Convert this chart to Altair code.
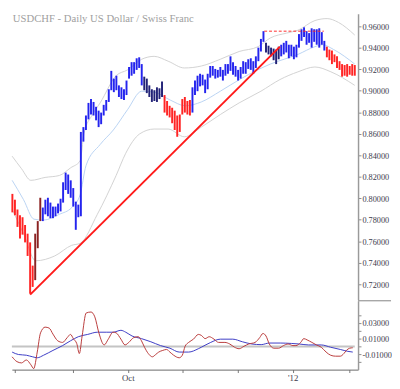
import altair as alt
import pandas as pd

TITLE = "USDCHF - Daily  US Dollar / Swiss Franc"

# bar index (trading days, 0 = 1 Aug 2011)
bar_index = list(range(-1, 135))
bar_high = [0.8041, 0.7987, 0.7896, 0.7842, 0.7824, 0.7752, 0.7671, 0.7590, 0.7374, 0.7671,
            0.7788, 0.8005, 0.7914, 0.7987, 0.8005, 0.7960, 0.7923, 0.7923, 0.7951, 0.7996,
            0.8149, 0.8239, 0.8221, 0.8167, 0.8095, 0.7969, 0.7941, 0.8617, 0.8662, 0.8770,
            0.8887, 0.8923, 0.8896, 0.8851, 0.8815, 0.8797, 0.8869, 0.8914, 0.9014, 0.9185,
            0.9113, 0.9140, 0.9050, 0.9032, 0.9014, 0.9095, 0.9221, 0.9266, 0.9266, 0.9302,
            0.9311, 0.9248, 0.9131, 0.9113, 0.9050, 0.9014, 0.9005, 0.9032, 0.9023, 0.9086,
            0.8960, 0.8905, 0.8860, 0.8842, 0.8815, 0.8770, 0.8779, 0.8923, 0.8942, 0.8905,
            0.8914, 0.9032, 0.9095, 0.9140, 0.9158, 0.9149, 0.9104, 0.9158, 0.9230, 0.9230,
            0.9203, 0.9194, 0.9221, 0.9194, 0.9248, 0.9248, 0.9320, 0.9266, 0.9230, 0.9194,
            0.9221, 0.9275, 0.9266, 0.9293, 0.9302, 0.9275, 0.9320, 0.9401, 0.9482, 0.9554,
            0.9446, 0.9419, 0.9401, 0.9392, 0.9383, 0.9410, 0.9428, 0.9446, 0.9464, 0.9428,
            0.9428, 0.9410, 0.9428, 0.9527, 0.9572, 0.9590, 0.9554, 0.9536, 0.9581, 0.9572,
            0.9572, 0.9581, 0.9545, 0.9464, 0.9410, 0.9383, 0.9374, 0.9338, 0.9320, 0.9275,
            0.9248, 0.9239, 0.9248, 0.9230, 0.9248, 0.9239]
bar_low = [0.7869, 0.7842, 0.7734, 0.7626, 0.7662, 0.7590, 0.7464, 0.7113, 0.7176, 0.7239,
           0.7536, 0.7788, 0.7788, 0.7851, 0.7833, 0.7815, 0.7815, 0.7833, 0.7860, 0.7878,
           0.7960, 0.8077, 0.8041, 0.8005, 0.7923, 0.7707, 0.7824, 0.7833, 0.8527, 0.8635,
           0.8734, 0.8779, 0.8770, 0.8725, 0.8662, 0.8689, 0.8770, 0.8815, 0.8896, 0.9005,
           0.8987, 0.9005, 0.8942, 0.8923, 0.8914, 0.8960, 0.9113, 0.9140, 0.9158, 0.9194,
           0.9212, 0.9050, 0.9005, 0.8978, 0.8942, 0.8896, 0.8905, 0.8896, 0.8923, 0.8942,
           0.8797, 0.8770, 0.8752, 0.8698, 0.8635, 0.8572, 0.8617, 0.8779, 0.8797, 0.8779,
           0.8770, 0.8797, 0.8960, 0.8996, 0.9041, 0.9050, 0.8978, 0.9014, 0.9122, 0.9140,
           0.9113, 0.9122, 0.9131, 0.9095, 0.9140, 0.9158, 0.9185, 0.9149, 0.9131, 0.9095,
           0.9113, 0.9158, 0.9158, 0.9203, 0.9194, 0.9158, 0.9212, 0.9275, 0.9365, 0.9455,
           0.9356, 0.9338, 0.9320, 0.9284, 0.9248, 0.9293, 0.9320, 0.9338, 0.9356, 0.9302,
           0.9320, 0.9293, 0.9311, 0.9401, 0.9464, 0.9500, 0.9428, 0.9446, 0.9401, 0.9455,
           0.9428, 0.9401, 0.9428, 0.9374, 0.9311, 0.9284, 0.9248, 0.9266, 0.9212, 0.9194,
           0.9131, 0.9140, 0.9131, 0.9149, 0.9140, 0.9140]
color_runs = [("r", 9), ("dr", 3), ("b", 40), ("n", 8), ("r", 11),
              ("b", 29), ("n", 6), ("b", 18), ("r", 12)]
bar_state = [c for c, n in color_runs for _ in range(n)]

upper_band = [(-1.1, 0.8392), (2.6, 0.8275), (6.3, 0.8167), (11.9, 0.8194), (17.5, 0.8212),
              (22.0, 0.8284), (25.7, 0.8347), (27.2, 0.8599), (30.6, 0.8779), (33.6, 0.8887),
              (39.9, 0.9140), (44.4, 0.9194), (50.0, 0.9293), (54.9, 0.9320), (60.4, 0.9275),
              (66.8, 0.9212), (73.5, 0.9230), (81.0, 0.9293), (88.4, 0.9365), (95.9, 0.9410),
              (100.7, 0.9491), (107.1, 0.9536), (111.6, 0.9563), (118.3, 0.9653),
              (123.1, 0.9671), (127.6, 0.9635), (134.0, 0.9518)]
middle_band = [(-1.1, 0.8167), (3.4, 0.7987), (7.5, 0.7806), (11.2, 0.7797), (17.5, 0.7851),
               (22.4, 0.7914), (25.7, 0.8032), (28.0, 0.8302), (33.6, 0.8500), (38.8, 0.8635),
               (44.4, 0.8824), (50.0, 0.8996), (54.9, 0.8987), (61.2, 0.8914), (67.2, 0.8860),
               (73.5, 0.8896), (81.0, 0.8996), (89.2, 0.9113), (100.7, 0.9248), (111.6, 0.9338),
               (118.3, 0.9410), (121.3, 0.9428), (125.7, 0.9383), (134.0, 0.9248)]
lower_band = [(-1.1, 0.7896), (3.4, 0.7671), (8.2, 0.7419), (15.7, 0.7464), (22.4, 0.7563),
              (25.7, 0.7581), (32.5, 0.7851), (39.9, 0.8212), (43.7, 0.8419), (49.2, 0.8599),
              (54.9, 0.8644), (60.4, 0.8644), (66.8, 0.8572), (73.5, 0.8662), (81.0, 0.8779),
              (88.4, 0.8887), (97.0, 0.8996), (104.5, 0.9104), (111.6, 0.9176), (118.3, 0.9221),
              (124.6, 0.9176), (134.0, 0.9050)]
trend_line = [(6.0, 0.7104), (104.5, 0.9410)]
resistance = [(98.3, 0.9554), (121.8, 0.9554)]

osc_red = [(-1.1, -0.0130), (0.8, -0.0191), (2.6, -0.0207), (4.5, -0.0170), (6.3, -0.0231),
           (7.4, -0.0279), (8.8, -0.0070), (10.1, 0.0173), (11.9, 0.0245), (13.5, 0.0233),
           (15.0, 0.0157), (16.9, 0.0072), (18.8, 0.0052), (20.6, 0.0112), (21.9, 0.0153),
           (23.1, 0.0096), (24.4, 0.0036), (25.4, -0.0089), (26.5, 0.0133), (28.1, 0.0424),
           (30.0, 0.0436), (31.5, 0.0375), (33.1, 0.0173), (35.2, 0.0020), (36.8, 0.0093),
           (38.7, 0.0181), (39.9, 0.0173), (41.8, 0.0093), (43.4, 0.0020), (44.9, 0.0052),
           (46.8, 0.0112), (48.6, 0.0124), (49.9, 0.0072), (51.1, -0.0009), (52.6, -0.0089),
           (54.2, -0.0130), (55.5, -0.0101), (56.7, -0.0070), (58.3, -0.0049), (59.8, -0.0037),
           (61.1, -0.0070), (62.6, -0.0110), (64.8, -0.0142), (66.0, -0.0110), (67.1, 0.0003),
           (68.5, 0.0052), (70.4, 0.0093), (72.3, 0.0153), (73.5, 0.0141), (75.0, 0.0100),
           (76.6, 0.0124), (78.5, 0.0093), (80.3, 0.0052), (82.8, 0.0052), (84.7, 0.0032),
           (86.6, -0.0009), (88.4, -0.0028), (90.3, 0.0003), (92.2, 0.0032), (94.7, 0.0052),
           (96.5, 0.0112), (97.8, 0.0165), (99.0, 0.0133), (100.3, 0.0032), (102.1, -0.0021),
           (104.0, -0.0021), (105.9, 0.0012), (107.7, 0.0032), (109.6, 0.0012), (110.8, 0.0012),
           (112.7, 0.0052), (113.9, 0.0100), (115.2, 0.0084), (117.1, 0.0052), (118.9, 0.0020),
           (120.8, -0.0009), (122.7, -0.0070), (124.5, -0.0110), (126.4, -0.0122),
           (128.3, -0.0122), (129.7, -0.0089), (130.7, -0.0049), (132.0, -0.0021),
           (133.2, -0.0016)]
osc_blue = [(-1.1, -0.0070), (1.4, -0.0101), (4.5, -0.0110), (7.0, -0.0130), (8.8, -0.0142),
            (11.3, -0.0110), (15.0, -0.0049), (18.8, 0.0012), (21.9, 0.0072), (25.0, 0.0124),
            (28.7, 0.0153), (32.5, 0.0181), (36.2, 0.0181), (38.7, 0.0181), (41.8, 0.0205),
            (43.7, 0.0181), (46.2, 0.0133), (49.9, 0.0100), (53.6, 0.0060), (57.4, 0.0012),
            (61.1, -0.0021), (64.8, -0.0070), (68.5, -0.0070), (72.3, -0.0028), (73.5, -0.0009),
            (77.2, 0.0052), (81.0, 0.0093), (85.9, 0.0093), (89.7, 0.0060), (93.4, 0.0032),
            (97.1, 0.0024), (100.3, 0.0044), (104.6, 0.0044), (109.0, 0.0039), (112.1, 0.0032),
            (115.8, 0.0020), (120.8, 0.0020), (124.5, -0.0009), (128.3, -0.0037),
            (131.3, -0.0061), (133.2, -0.0070)]

month_ticks = [0, 23, 44.5, 66, 88, 109.5, 132]
month_labels = ["", "", "Oct", "", "", "'12", ""]
price_ticks = [0.72, 0.74, 0.76, 0.78, 0.80, 0.82, 0.84, 0.86, 0.88, 0.90, 0.92, 0.94, 0.96]
osc_ticks = [-0.02, -0.01, 0.0, 0.01, 0.02, 0.03, 0.04]
osc_labels = ["", "-0.01000", "", "0.01000", "", "0.03000", ""]

W, H1, H2 = 357, 295, 71
FONT = "Liberation Serif"
LABEL_COLOR = "#3a3a4a"

xs = alt.Scale(domain=[-1.2, 135.3], nice=False, zero=False)
ys = alt.Scale(domain=[0.7056, 0.9716], nice=False, zero=False)
os_ = alt.Scale(domain=[-0.0292, 0.0578], nice=False, zero=False)

y_axis = alt.Axis(orient="right", values=price_ticks, format=".5f", title=None, grid=False,
                  labelFont=FONT, labelFontSize=8.5, labelColor=LABEL_COLOR, labelPadding=1,
                  tickColor="#8a8a8a", tickSize=3, domainColor="#9a9a9a", domainWidth=1.5)


def pairs_df(pairs):
    return pd.DataFrame(pairs, columns=["i", "p"])


def xenc():
    return alt.X("i:Q", scale=xs, axis=None)


def yenc(field="p"):
    return alt.Y(f"{field}:Q", scale=ys, axis=y_axis)


bars_df = pd.DataFrame({"i": bar_index, "high": bar_high, "low": bar_low, "s": bar_state})

band_layers = []
for pairs, col in [(upper_band, "#d2d2d2"), (lower_band, "#d2d2d2"), (middle_band, "#b9d3f3")]:
    band_layers.append(
        alt.Chart(pairs_df(pairs)).mark_line(interpolate="monotone", strokeWidth=1, color=col)
        .encode(x=xenc(), y=yenc())
    )

bars = alt.Chart(bars_df).mark_rule(strokeWidth=2).encode(
    x=xenc(),
    y=alt.Y("low:Q", scale=ys, axis=y_axis),
    y2="high:Q",
    color=alt.Color("s:N", scale=alt.Scale(domain=["b", "n", "r", "dr"],
                                           range=["#2424ee", "#222277", "#ff2424", "#8b2222"]),
                    legend=None),
)

res = alt.Chart(pairs_df(resistance)).mark_line(color="#ff2a2a", strokeWidth=1,
                                                 strokeDash=[3, 2]).encode(x=xenc(), y=yenc())
trend = alt.Chart(pairs_df(trend_line)).mark_line(color="#ff1a1a", strokeWidth=2).encode(
    x=xenc(), y=yenc())

title_layer = alt.Chart(pd.DataFrame({"t": [TITLE]})).mark_text(
    align="left", baseline="top", font=FONT, fontSize=11, color="#a0a0a0"
).encode(text="t:N", x=alt.value(1), y=alt.value(0))

main = alt.layer(*band_layers, bars, res, trend, title_layer).properties(width=W, height=H1)

# lower panel
x_expr = " : ".join(
    [f"datum.value == {v} ? \"{l}\"" for v, l in zip(month_ticks, month_labels) if l]
) + " : ''"
o_expr = " : ".join(
    [f"abs(datum.value - ({v})) < 1e-9 ? '{l}'" for v, l in zip(osc_ticks, osc_labels) if l]
) + " : ''"

x_axis = alt.Axis(values=month_ticks, labelExpr=x_expr, title=None, grid=False, tickSize=3,
                  tickColor="#777777", domainColor="#666666", labelFont=FONT, labelFontSize=9,
                  labelColor=LABEL_COLOR, labelPadding=1, labelOverlap=False, labelFlush=False)
o_axis = alt.Axis(orient="right", values=osc_ticks, labelExpr=o_expr, title=None, grid=False,
                  labelFont=FONT, labelFontSize=8.5, labelColor=LABEL_COLOR, labelPadding=1,
                  tickColor="#8a8a8a", tickSize=3, domainColor="#9a9a9a", domainWidth=1.5,
                  labelOverlap=False)


def oxenc():
    return alt.X("i:Q", scale=xs, axis=x_axis)


def oyenc():
    return alt.Y("p:Q", scale=os_, axis=o_axis)


zero_line = alt.Chart(pd.DataFrame({"i": [-1.2, 134.0], "p": [0.0, 0.0]})).mark_line(
    color="#c4c4c4", strokeWidth=2).encode(x=oxenc(), y=oyenc())
red_line = alt.Chart(pairs_df(osc_red)).mark_line(
    interpolate="monotone", color="#b93a3a", strokeWidth=1).encode(x=oxenc(), y=oyenc())
blue_line = alt.Chart(pairs_df(osc_blue)).mark_line(
    interpolate="monotone", color="#3a3ac4", strokeWidth=1).encode(x=oxenc(), y=oyenc())
sep = alt.Chart(pd.DataFrame({"a": [0]})).mark_rule(color="#808080", strokeWidth=1).encode(
    x=alt.value(W), x2=alt.value(W + 34), y=alt.value(0))

lower = alt.layer(zero_line, blue_line, red_line, sep).properties(width=W, height=H2)

chart = alt.vconcat(main, lower, spacing=0).properties(
    padding={"left": 0, "top": 0, "right": 0, "bottom": 0}, background="white"
).configure_view(stroke=None)

chart.save("out.html", embed_options={"renderer": "svg", "actions": False})
